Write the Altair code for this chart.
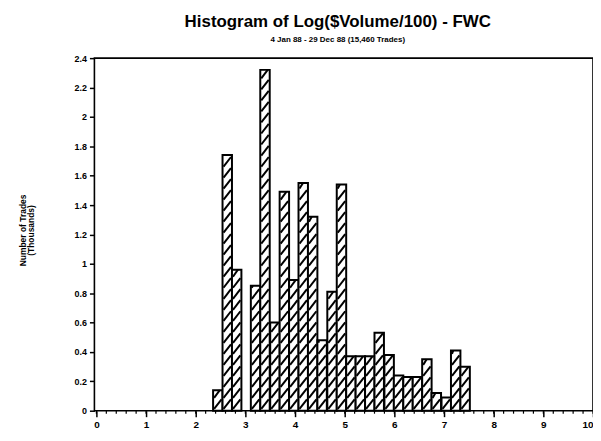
import altair as alt
import pandas as pd
import numpy as np

# Histogram bins (lower edge of each bar, in Log($Volume/100) units) and heights (thousands of trades)
bin_lo = [2.35, 2.54, 2.73,
          3.11, 3.30, 3.50, 3.69, 3.88, 4.07, 4.26, 4.45, 4.65, 4.84,
          5.03, 5.22, 5.41, 5.60, 5.80, 5.99, 6.18, 6.37, 6.56, 6.75, 6.95, 7.14, 7.33]
counts = [0.14, 1.74, 0.96,
          0.85, 2.32, 0.60, 1.49, 0.89, 1.55, 1.32, 0.48, 0.81, 1.54,
          0.37, 0.37, 0.37, 0.53, 0.38, 0.24, 0.23, 0.23, 0.35, 0.12, 0.09, 0.41, 0.30]
x_ticks = [0, 1, 2, 3, 4, 5, 6, 7, 8, 9, 10]
y_ticks = [0, 0.2, 0.4, 0.6, 0.8, 1, 1.2, 1.4, 1.6, 1.8, 2, 2.2, 2.4]

BIN_W = 0.19
W, H = 502, 355
XDOM = [-0.04, 10.0]
YDOM = [0, 2.4]
FONT = "Liberation Sans"

bars = pd.DataFrame({"lo": bin_lo, "count": counts})
bars["hi"] = bars["lo"] + BIN_W

# hatch strokes derived from the bars (decoration)
SPACING, RISE = 0.075, 0.065
segs = []
for lo, h in zip(bin_lo, counts):
    y0 = 0.012
    while y0 < h - 0.012:
        y1 = y0 + RISE
        x1 = lo + BIN_W
        if y1 > h:
            x1 = lo + BIN_W * (h - y0) / RISE
            y1 = h
        segs.append({"lo": lo + 0.02, "count": y0,
                     "hi": x1 - 0.02 if x1 - lo > 0.04 else x1, "top": y1})
        y0 += SPACING
hatch = pd.DataFrame(segs)

minor = pd.DataFrame({"lo": [round(v, 1) for v in np.arange(0, 10.01, 0.2)]})

xs = alt.Scale(domain=XDOM, nice=False, zero=False)
ys = alt.Scale(domain=YDOM, nice=False)

xa = alt.Axis(
    values=x_ticks, title=None, format="d", tickSize=6, tickWidth=1.5, tickColor="black",
    labelFont=FONT, labelFontSize=10, labelFontWeight="bold", labelColor="black",
    domain=False, grid=False, labelPadding=3)
ya = alt.Axis(
    values=y_ticks, format="~g", tickSize=5, tickWidth=1.5, tickColor="black",
    labelFont=FONT, labelFontSize=9, labelFontWeight="bold", labelColor="black",
    domain=False, grid=False, labelPadding=3,
    title=["Number of Trades", "(Thousands)"], titleFont=FONT, titleFontSize=8.5,
    titleFontWeight="bold", titleColor="black", titleAngle=-90,
    titleX=-72, titleY=173, titleAlign="center", titleBaseline="middle", titleLineHeight=8)

base_bars = alt.Chart(bars).mark_rect(fill="white", stroke="black", strokeWidth=2).encode(
    x=alt.X("lo:Q", scale=xs, axis=xa),
    x2="hi:Q",
    y=alt.Y("count:Q", scale=ys, axis=ya),
    y2=alt.datum(0),
)

hatch_layer = alt.Chart(hatch).mark_rule(color="black", strokeWidth=2).encode(
    x=alt.X("lo:Q", scale=xs, axis=xa),
    x2="hi:Q",
    y=alt.Y("count:Q", scale=ys, axis=ya),
    y2="top:Q",
)

minor_layer = alt.Chart(minor).mark_rule(color="black", strokeWidth=1.2).encode(
    x=alt.X("lo:Q", scale=xs, axis=xa),
    y=alt.value(H),
    y2=alt.value(H + 3),
)

chart = alt.layer(base_bars, hatch_layer, minor_layer).properties(
    width=W, height=H, background="white",
    title=alt.TitleParams(
        text="Histogram of Log($Volume/100) - FWC",
        subtitle="4 Jan 88 - 29 Dec 88 (15,460 Trades)",
        font=FONT, fontSize=17, fontWeight="bold", color="black",
        subtitleFont=FONT, subtitleFontSize=8, subtitleFontWeight="bold", subtitleColor="black",
        anchor="middle", offset=7, subtitlePadding=5, dx=-6, dy=-2,
    ),
    autosize=alt.AutoSizeParams(type="none"),
    padding={"left": 87, "top": 49, "right": 0, "bottom": 25},
).configure_view(stroke="black", strokeWidth=1.6)

chart.save("out.html", embed_options={"renderer": "svg", "actions": False})
